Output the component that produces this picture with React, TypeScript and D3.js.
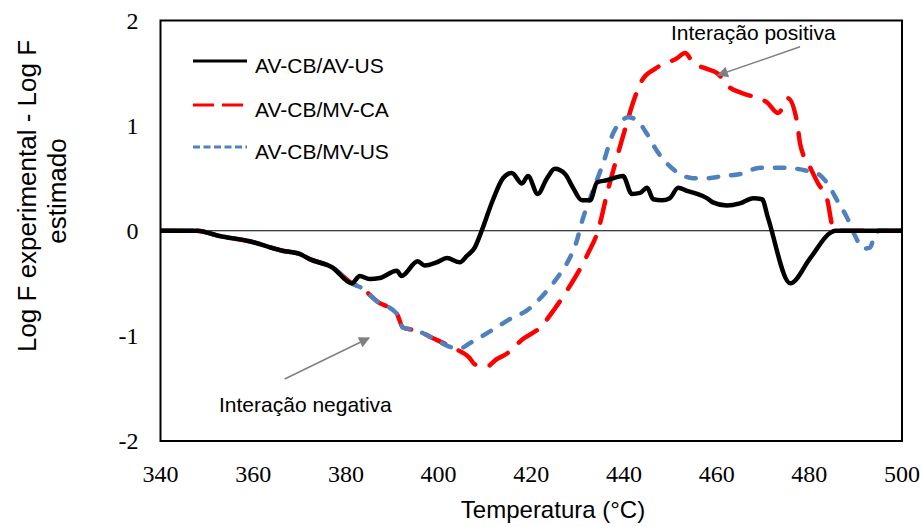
import React from "react";
import * as d3 from "d3";

type Pt = [number, number];

// Temperature (°C) / log-difference readings for each blend.
// All three blends coincide over the initial drift.
const commonStart: Pt[] = [
  [340, 0], [344, 0], [347.8, 0], [352.7, -0.05], [359.2, -0.1], [366.3, -0.19],
  [370, -0.22], [372.2, -0.27], [377.1, -0.35], [381.3, -0.5],
];

// Both MV blends follow the same path until ~403 °C.
const mvCommon: Pt[] = [
  [383.6, -0.55], [386.7, -0.67], [391, -0.79], [392.3, -0.92], [395.3, -0.95],
  [398.7, -1.02], [402.9, -1.11],
];

const avUsTail: Pt[] = [
  [383, -0.43], [385.1, -0.46], [387.3, -0.45], [391, -0.38], [392, -0.43],
  [395.5, -0.29], [397, -0.33], [399.6, -0.3], [401.8, -0.26], [404.6, -0.3],
  [406.1, -0.24], [407.8, -0.16], [409.3, 0], [411.7, 0.29], [413.9, 0.5],
  [415.8, 0.55], [418, 0.45], [419.3, 0.52], [421.4, 0.35], [423.4, 0.5],
  [425.1, 0.59], [427.3, 0.54], [429, 0.41], [430.9, 0.29], [432.7, 0.29],
  [434.2, 0.46], [436.3, 0.48], [439.8, 0.52], [441.7, 0.35], [443.5, 0.36],
  [445, 0.41], [446.3, 0.3], [448.2, 0.29], [449.9, 0.31], [451.7, 0.41],
  [453.6, 0.38], [455.8, 0.35], [457.9, 0.31], [459.2, 0.27], [462.2, 0.24],
  [465, 0.26], [467.9, 0.31], [469.8, 0.3], [471.1, 0.12], [475.9, -0.5],
  [480.2, -0.26], [484.5, -0.02], [485.6, 0], [490, 0], [495, 0], [500, 0],
];

const mvCaTail: Pt[] = [
  [406.7, -1.21], [407.8, -1.27], [410.4, -1.29], [412.6, -1.22], [414.7, -1.17],
  [418.2, -1.03], [421.9, -0.92], [425.1, -0.74], [427.7, -0.57], [432.2, -0.22],
  [434.4, 0], [436.5, 0.38], [438.5, 0.7], [440.6, 1.02], [441.9, 1.21],
  [443.9, 1.43], [446.7, 1.54], [451.4, 1.64], [453.2, 1.69], [454.9, 1.6],
  [457.9, 1.54], [460.1, 1.5], [462.9, 1.36], [465.4, 1.31], [470.9, 1.22],
  [473.3, 1.12], [475.4, 1.26], [477.4, 1.02], [478, 0.83], [480.2, 0.6],
  [481.9, 0.45], [483.9, 0.29], [485.1, 0.03], [486, 0], [490, 0], [495, 0], [500, 0],
];

const mvUsTail: Pt[] = [
  [404.6, -1.12], [406.7, -1.07], [409.5, -1.0], [413.2, -0.9], [415.4, -0.84],
  [419, -0.76], [423.4, -0.57], [426.2, -0.41], [428.3, -0.26], [429.8, -0.1],
  [430.9, 0.08], [433.3, 0.38], [435.5, 0.64], [437.6, 0.92], [439.6, 1.05],
  [440.9, 1.08], [442.8, 1.05], [445, 0.92], [447.1, 0.76], [449.3, 0.64],
  [452.1, 0.54], [454.9, 0.5], [457.9, 0.5], [461.4, 0.52], [465.1, 0.54],
  [469.4, 0.6], [474.3, 0.6], [479.5, 0.57], [481.9, 0.54], [483.9, 0.45],
  [486, 0.29], [488.2, 0.12], [489.9, -0.05], [491.6, -0.17], [493.1, -0.16],
  [494.2, -0.03], [495.3, 0], [500, 0],
];

const seriesNames = ["AV-CB/AV-US", "AV-CB/MV-CA", "AV-CB/MV-US"];
const xTicks = [340, 360, 380, 400, 420, 440, 460, 480, 500];
const yTicks = [-2, -1, 0, 1, 2];

const avUs = [...commonStart, ...avUsTail];
const mvCa = [...commonStart, ...mvCommon, ...mvCaTail];
const mvUs = [...commonStart, ...mvCommon, ...mvUsTail];

const W = 923;
const H = 527;
const plot = { left: 160.5, right: 902, top: 20.5, bottom: 441 };

const sans = "'Liberation Sans', Arial, sans-serif";
const serif = "'Liberation Serif', 'Times New Roman', serif";

export default function App() {
  const x = d3.scaleLinear().domain([340, 500]).range([plot.left, plot.right]);
  const y = d3.scaleLinear().domain([-2, 2]).range([plot.bottom, plot.top]);

  const line = d3
    .line<Pt>()
    .x((d) => x(d[0]))
    .y((d) => y(d[1]))
    .curve(d3.curveMonotoneX);

  const styles = [
    { data: mvCa, color: "#FF0000", dash: "22 15", legendDash: "21 8", cap: "round" },
    { data: mvUs, color: "#4F81BD", dash: "9.5 13", legendDash: "7 3.5", cap: "round" },
    { data: avUs, color: "#000000", dash: "none", legendDash: "none", cap: "round" },
  ];
  const legendOrder = [2, 0, 1];
  const legendY = [61, 105, 147];

  // annotation arrows, expressed in data units
  const posArrow = { from: [478, 1.75], to: [460.3, 1.48] };
  const negArrow = { from: [366.8, -1.41], to: [385, -1.02] };

  return (
    <svg
      width={W}
      height={H}
      style={{ position: "absolute", left: 0, top: 0, background: "#fff" }}
    >
      <defs>
        <clipPath id="plotClip">
          <rect
            x={plot.left}
            y={plot.top - 4}
            width={plot.right - plot.left}
            height={plot.bottom - plot.top + 8}
          />
        </clipPath>
        <marker
          id="arrowHead"
          viewBox="0 0 10 10"
          refX="9"
          refY="5"
          markerWidth="15"
          markerHeight="11"
          markerUnits="userSpaceOnUse"
          orient="auto"
        >
          <path d="M0,0 L10,5 L0,10 Z" fill="#7F7F7F" />
        </marker>
      </defs>

      {/* zero reference line */}
      <line x1={plot.left} x2={plot.right} y1={y(0)} y2={y(0)} stroke="#000" strokeWidth={1} />

      {/* series */}
      <g clipPath="url(#plotClip)">
        {styles.map((s, i) => (
          <path
            key={i}
            d={line(s.data) || ""}
            fill="none"
            stroke={s.color}
            strokeWidth={4.5}
            strokeDasharray={s.dash}
            strokeLinecap={s.cap as any}
            strokeLinejoin="round"
          />
        ))}
      </g>

      {/* plot frame */}
      <rect
        x={plot.left}
        y={plot.top}
        width={plot.right - plot.left}
        height={plot.bottom - plot.top}
        fill="none"
        stroke="#000"
        strokeWidth={2}
      />

      {/* y tick labels */}
      {yTicks.map((t) => (
        <text
          key={t}
          x={plot.left - 22}
          y={y(t)}
          dy="0.35em"
          textAnchor="end"
          fontFamily={serif}
          fontSize={24}
          fill="#000"
        >
          {t}
        </text>
      ))}

      {/* x tick labels */}
      {xTicks.map((t) => (
        <text
          key={t}
          x={x(t)}
          y={482}
          textAnchor="middle"
          fontFamily={serif}
          fontSize={24}
          fill="#000"
        >
          {t}
        </text>
      ))}

      {/* axis titles */}
      <text x={553} y={518} textAnchor="middle" fontFamily={sans} fontSize={24} fill="#000">
        Temperatura (°C)
      </text>
      <text
        transform="translate(36,196) rotate(-90)"
        textAnchor="middle"
        fontFamily={sans}
        fontSize={26}
        fill="#000"
      >
        Log F experimental - Log F
      </text>
      <text
        transform="translate(66,191) rotate(-90)"
        textAnchor="middle"
        fontFamily={sans}
        fontSize={26}
        fill="#000"
      >
        estimado
      </text>

      {/* legend */}
      {legendOrder.map((si, k) => {
        const s = styles[si];
        return (
          <g key={k}>
            <line
              x1={193}
              x2={247}
              y1={legendY[k]}
              y2={legendY[k]}
              stroke={s.color}
              strokeWidth={3}
              strokeDasharray={s.legendDash}
            />
            <text
              x={255}
              y={legendY[k] + 12}
              fontFamily={sans}
              fontSize={21}
              fill="#000"
            >
              {seriesNames[k]}
            </text>
          </g>
        );
      })}

      {/* annotations */}
      <text x={671} y={40} fontFamily={sans} fontSize={21} fill="#000">
        Interação positiva
      </text>
      <line
        x1={x(posArrow.from[0])}
        y1={y(posArrow.from[1])}
        x2={x(posArrow.to[0])}
        y2={y(posArrow.to[1])}
        stroke="#7F7F7F"
        strokeWidth={1.5}
        markerEnd="url(#arrowHead)"
      />
      <text x={219} y={412} fontFamily={sans} fontSize={21} fill="#000">
        Interação negativa
      </text>
      <line
        x1={x(negArrow.from[0])}
        y1={y(negArrow.from[1])}
        x2={x(negArrow.to[0])}
        y2={y(negArrow.to[1])}
        stroke="#7F7F7F"
        strokeWidth={1.5}
        markerEnd="url(#arrowHead)"
      />
    </svg>
  );
}
